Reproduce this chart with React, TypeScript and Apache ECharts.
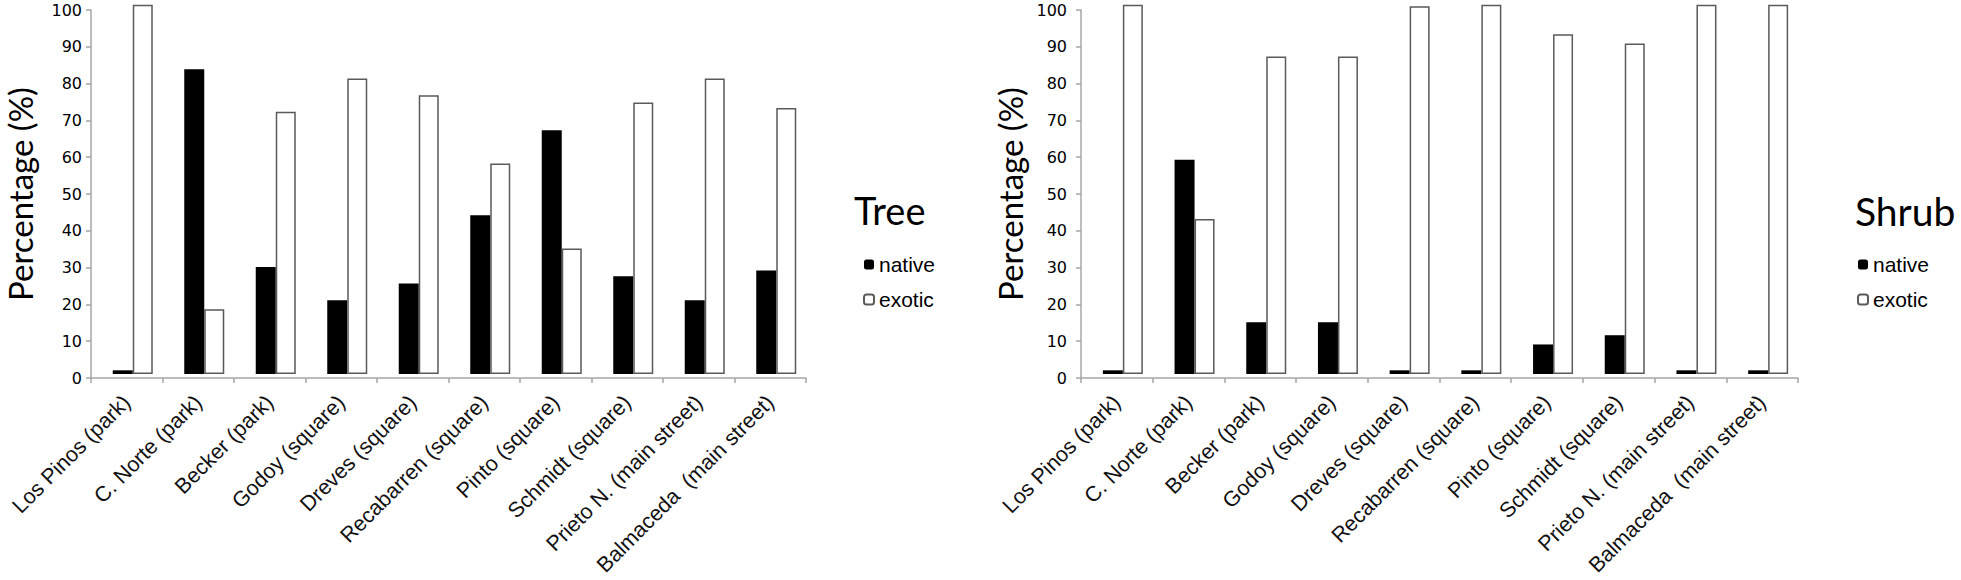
import React, { useEffect, useRef } from "react";
import * as echarts from "echarts";

const categories = [
  "Los Pinos (park)",
  "C. Norte (park)",
  "Becker (park)",
  "Godoy (square)",
  "Dreves (square)",
  "Recabarren (square)",
  "Pinto (square)",
  "Schmidt (square)",
  "Prieto N. (main street)",
  "Balmaceda  (main street)",
];

const treeNative = [1, 82.5, 29, 20, 24.5, 43, 66, 26.5, 20, 28];
const treeExotic = [100, 17.5, 71, 80, 75.5, 57, 34, 73.5, 80, 72];
const shrubNative = [1, 58, 14, 14, 1, 1, 8, 10.5, 1, 1];
const shrubExotic = [100, 42, 86, 86, 99.6, 100, 92, 89.5, 100, 100];

const yTicks = { min: 0, max: 100, interval: 10 };
const seriesNames = ["native", "exotic"];
const panelTitles = ["Tree", "Shrub"];
const yTitle = "Percentage (%)";

const AXIS_COLOR = "#a6a6a6";

function visibleX(gridIndex: number) {
  return {
    type: "category",
    gridIndex,
    data: categories,
    boundaryGap: true,
    axisLine: { show: true, lineStyle: { color: AXIS_COLOR, width: 1.5 } },
    axisTick: { show: true, length: 5, lineStyle: { color: AXIS_COLOR, width: 1.5 } },
    axisLabel: {
      interval: 0,
      rotate: 45,
      fontSize: 21.5,
      fontFamily: "Liberation Sans, Arial, sans-serif",
      color: "#111",
      margin: 21,
    },
    splitLine: { show: false },
  };
}

function visibleY(gridIndex: number, margin: number) {
  return {
    type: "value",
    gridIndex,
    min: yTicks.min,
    max: yTicks.max,
    interval: yTicks.interval,
    splitLine: { show: false },
    axisLine: { show: true, lineStyle: { color: AXIS_COLOR, width: 1.5 } },
    axisTick: { show: true, length: 5, lineStyle: { color: AXIS_COLOR, width: 1.5 } },
    axisLabel: {
      fontFamily: "DejaVu Sans, sans-serif",
      fontSize: 16,
      color: "#000",
      margin,
    },
    name: yTitle,
    nameLocation: "middle",
    nameRotate: 90,
    nameGap: 54,
    nameTextStyle: { fontFamily: "Lato, sans-serif", fontSize: 33, lineHeight: 34, color: "#000" },
  };
}

function hiddenX(gridIndex: number) {
  return { type: "category", gridIndex, data: categories, show: false, boundaryGap: true };
}
function hiddenY(gridIndex: number) {
  return { type: "value", gridIndex, min: yTicks.min, max: yTicks.max, show: false, splitLine: { show: false } };
}

function barSeries(name: string, data: number[], axisIndex: number) {
  const isNative = name === seriesNames[0];
  return {
    name,
    type: "bar",
    xAxisIndex: axisIndex,
    yAxisIndex: axisIndex,
    data,
    barWidth: 20,
    barGap: "0%",
    itemStyle: isNative
      ? { color: "#000", borderColor: "#000", borderWidth: 0 }
      : { color: "#fff", borderColor: "#5a5a5a", borderWidth: 1.5 },
  };
}

export default function App() {
  const ref = useRef<HTMLDivElement>(null);
  useEffect(() => {
    if (!ref.current) return;
    const chart = echarts.init(ref.current, null, { renderer: "svg" });
    const legendCommon = {
      data: seriesNames,
      orient: "vertical",
      itemWidth: 10,
      itemHeight: 10,
      itemGap: 14,
      padding: 0,
      selectedMode: false,
      textStyle: { fontFamily: "Liberation Sans, Arial, sans-serif", fontSize: 21, color: "#000" },
    };
    const titleStyle = { fontFamily: "Lato, sans-serif", fontSize: 38, fontWeight: "normal", color: "#000" };
    chart.setOption({
      animation: false,
      backgroundColor: "#fff",
      title: [
        { text: panelTitles[0], left: 854, top: 191, padding: 0, textStyle: titleStyle },
        { text: panelTitles[1], left: 1855, top: 191, padding: 0, textStyle: { ...titleStyle, fontSize: 39 } },
      ],
      legend: [
        { ...legendCommon, left: 863, top: 254 },
        { ...legendCommon, left: 1857, top: 254 },
      ],
      grid: [
        { left: 91, top: 10, width: 715, height: 368 },
        { left: 97, top: 4.7, width: 715, height: 369.3 },
        { left: 1081, top: 10, width: 717, height: 368 },
        { left: 1087, top: 4.7, width: 717, height: 369.3 },
      ],
      xAxis: [visibleX(0), hiddenX(1), visibleX(2), hiddenX(3)],
      yAxis: [visibleY(0, 9), hiddenY(1), visibleY(2, 14), hiddenY(3)],
      series: [
        barSeries("native", treeNative, 1),
        barSeries("exotic", treeExotic, 1),
        barSeries("native", shrubNative, 3),
        barSeries("exotic", shrubExotic, 3),
      ],
    });
    return () => chart.dispose();
  }, []);
  return (
    <div
      ref={ref}
      style={{ position: "fixed", left: 0, top: 0, width: 1961, height: 580, background: "#fff" }}
    />
  );
}
